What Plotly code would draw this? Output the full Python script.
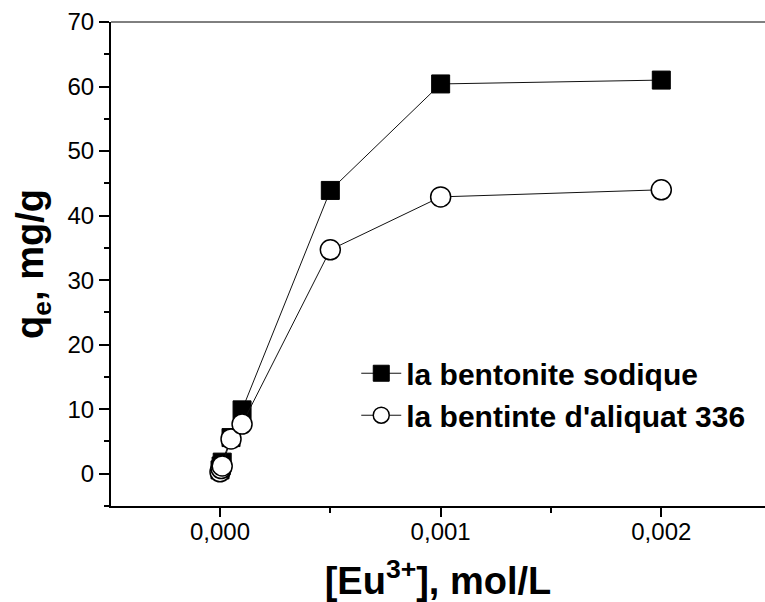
import plotly.graph_objects as go

# Data
conc_sodique = [0.0, 0.000005, 0.00001, 0.00005, 0.0001, 0.0005, 0.001, 0.002]
qe_sodique = [0.6, 1.2, 1.8, 5.6, 9.9, 43.9, 60.4, 61.0]

conc_aliquat = [0.0, 0.000005, 0.00001, 0.00005, 0.0001, 0.0005, 0.001, 0.002]
qe_aliquat = [0.3, 0.8, 1.2, 5.4, 7.7, 34.7, 42.9, 44.0]

name_sodique = "la bentonite sodique"
name_aliquat = "la bentinte d'aliquat 336"

x_ticks = [0.0, 0.001, 0.002]
y_ticks = [0, 10, 20, 30, 40, 50, 60, 70]

FONT = "Arial, 'Liberation Sans', sans-serif"

fig = go.Figure()
fig.add_trace(go.Scatter(
    x=conc_sodique, y=qe_sodique, name=name_sodique, mode="lines+markers",
    line=dict(color="#111111", width=1),
    marker=dict(symbol="square", size=18, color="black", line=dict(color="black", width=1)),
))
fig.add_trace(go.Scatter(
    x=conc_aliquat, y=qe_aliquat, name=name_aliquat, mode="lines+markers",
    line=dict(color="#111111", width=1),
    marker=dict(symbol="circle", size=20, color="white", line=dict(color="black", width=1.5)),
))

fig.update_layout(
    width=765, height=602,
    margin=dict(l=111, r=0, t=22, b=96),
    paper_bgcolor="white", plot_bgcolor="white",
    separators=",.",
    font=dict(family=FONT, color="black"),
    showlegend=True,
    legend=dict(
        x=0.375, y=0.328, xanchor="left", yanchor="top",
        font=dict(family=FONT, size=30, color="black", weight="bold"),
        bgcolor="rgba(0,0,0,0)", borderwidth=0,
        tracegroupgap=0, itemwidth=40,
    ),
    xaxis=dict(
        range=[-0.000494, 0.00247],
        automargin=False,
        tickvals=x_ticks, tickformat=".3f",
        ticks="outside", ticklen=9, tickwidth=1.5, tickcolor="black",
        ticklabelstandoff=-6,
        minor=dict(ticks="outside", ticklen=5, tickwidth=1.5, tickcolor="black", dtick=0.0005, tick0=0.0005),
        showline=True, linewidth=2, linecolor="black",
        showgrid=False, zeroline=False,
        tickfont=dict(family=FONT, size=24),
        title=dict(text="[Eu<sup>3+</sup>], mol/L", font=dict(family=FONT, size=38, weight="bold"), standoff=28),
    ),
    yaxis=dict(
        range=[-5, 70],
        automargin=False,
        tickvals=y_ticks,
        ticks="outside", ticklen=10, tickwidth=1.5, tickcolor="black",
        minor=dict(ticks="outside", ticklen=5, tickwidth=1.5, tickcolor="black", dtick=5, tick0=5),
        showline=True, linewidth=2, linecolor="black",
        showgrid=False, zeroline=False,
        tickfont=dict(family=FONT, size=24),
        title=dict(text="q<sub>e</sub>, mg/g", font=dict(family=FONT, size=38, weight="bold"), standoff=12),
    ),
    shapes=[dict(type="line", xref="paper", yref="paper", x0=0, x1=1, y0=1, y1=1,
                 line=dict(color="black", width=1))],
)

fig.write_html(
    "out.html",
    config={"displayModeBar": False},
    post_script="document.body.style.margin='0';document.body.style.overflow='hidden';",
)
